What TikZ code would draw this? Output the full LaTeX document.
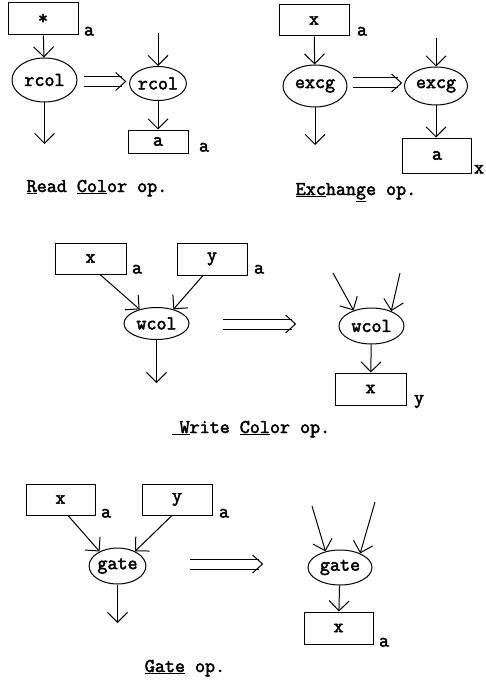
\documentclass[tikz,border=0pt]{standalone}
\usepackage{fontspec}
\setmonofont{Latin Modern Mono}[BoldFont={Latin Modern Mono},BoldFeatures={FakeBold=2.5}]
\usetikzlibrary{shapes.geometric,arrows.meta,calc}
\newcommand\myfont{\fontsize{19.5}{21}\selectfont\ttfamily\bfseries}
\newcommand\implarrow[2]{%
  \draw ([yshift=5pt]#1) -- ([yshift=5pt,xshift=-4pt]#2);
  \draw ([yshift=-5pt]#1) -- ([yshift=-5pt,xshift=-4pt]#2);
  \draw ([xshift=-10pt,yshift=9pt]#2) -- (#2) -- ([xshift=-10pt,yshift=-9pt]#2);}
\tikzset{
  every picture/.style={line width=1pt},
  bx/.style={draw, rectangle, inner sep=0pt, font=\myfont},
  ov/.style={draw, ellipse, inner sep=0pt, font=\myfont},
  sub/.style={inner sep=0pt, anchor=base west, font=\myfont},
  captxt/.style={inner sep=0pt, anchor=base, font=\myfont},
  arr/.style={-{Straight Barb[length=10pt,width=20pt]}},
}
\begin{document}
\begin{tikzpicture}[x=1pt,y=-1pt]
\useasboundingbox (0,0) rectangle (486,682);
% ---------- Read Color ----------
\node[bx, minimum width=70pt, minimum height=32pt] (b1) at (43,19) {*};
\node[sub] (l1) at ($(b1.south east)+(5,0)$) {a};
\node[ov, minimum width=65pt, minimum height=44pt] (e1) at (44.5,80) {rcol};
\coordinate (c1) at (44.5,144);
\draw[arr] (b1) -- (e1);
\draw[arr] (e1) -- (c1);
\node[ov, minimum width=53pt, minimum height=34pt] (e2) at (158,83.5) {rcol};
\coordinate (c2) at (158,33);
\node[bx, minimum width=60pt, minimum height=23pt] (b2) at (158,141.5) {a};
\node[sub] (l2) at ($(b2.south east)+(10,-2)$) {a};
\draw[arr] (c2) -- (e2);
\draw[arr] (e2) -- (b2);
\coordinate (i1a) at ($(e1.east)+(6,1.5)$);
\coordinate (i1b) at ($(e2.west)+(-3.5,-2)$);
\implarrow{i1a}{i1b}
\node[captxt] (t1) at (97,192) {\underline{R}ead \underline{Col}or op.};
% ---------- Exchange ----------
\node[bx, minimum width=70pt, minimum height=31pt] (b3) at (314,20.5) {x};
\node[sub] (l3) at ($(b3.south east)+(7,-1)$) {a};
\node[ov, minimum width=64pt, minimum height=42pt] (e3) at (315,86) {excg};
\coordinate (c3) at (315,145);
\draw[arr] (b3) -- (e3);
\draw[arr] (e3) -- (c3);
\node[ov, minimum width=63pt, minimum height=38pt] (e4) at (436,86) {excg};
\coordinate (c4) at (436,38);
\node[bx, minimum width=69pt, minimum height=35pt] (b4) at (437,155.5) {a};
\node[sub] (l4) at ($(b4.south east)+(1.5,0)$) {x};
\draw[arr] (c4) -- (e4);
\draw[arr] (e4) -- (e4 |- b4.north);
\coordinate (i2a) at ($(e3.east)+(5,-3)$);
\coordinate (i2b) at ($(e4.west)+(-2.5,-3)$);
\implarrow{i2a}{i2b}
\node[captxt] (t2) at (356,195) {\underline{Exc}han\underline{g}e op.};
% ---------- Write Color ----------
\node[bx, minimum width=71pt, minimum height=31pt] (b5) at (90.5,258.5) {x};
\node[sub] (l5) at ($(b5.south east)+(5,-1)$) {a};
\node[bx, minimum width=70pt, minimum height=32pt] (b6) at (212,259) {y};
\node[sub] (l6) at ($(b6.south east)+(6,-2)$) {a};
\node[ov, minimum width=65pt, minimum height=32pt] (e5) at (156.5,323.5) {wcol};
\coordinate (c5) at (156.5,383);
\draw[arr] ($(b5.south)+(9.5,0)$) -- (e5.140);
\draw[arr] ($(b6.south)+(-9,0)$) -- (e5.40);
\draw[arr] (e5) -- (c5);
\node[ov, minimum width=65pt, minimum height=36pt] (e6) at (371.5,326) {wcol};
\coordinate (c6a) at (333,273);
\coordinate (c6b) at (400,273);
\node[bx, minimum width=71pt, minimum height=32pt] (b7) at (370.5,389) {x};
\node[sub] (l7) at ($(b7.south east)+(7,-2)$) {y};
\draw[arr] (c6a) -- (e6.139);
\draw[arr] (c6b) -- (e6.37);
\draw[arr] (e6) -- (b7);
\coordinate (i3a) at ($(e5.east)+(33,0.5)$);
\coordinate (i3b) at ($(e6.west)+(-43,-2)$);
\implarrow{i3a}{i3b}
\node[captxt] (t3) at (251,433) {\underline{\hspace{0.4em}W}rite \underline{Col}or op.};
% ---------- Gate ----------
\node[bx, minimum width=69pt, minimum height=31pt] (b8) at (60.5,499.5) {x};
\node[sub] (l8) at ($(b8.south east)+(5,2)$) {a};
\node[bx, minimum width=70pt, minimum height=31pt] (b9) at (177,499.5) {y};
\node[sub] (l9) at ($(b9.south east)+(6,2)$) {a};
\node[ov, minimum width=53pt, minimum height=36pt] (e7) at (117.5,566) {gate};
\coordinate (c7) at (117.5,623);
\draw[arr] ($(b8.south)+(7.5,0)$) -- (e7.141);
\draw[arr] ($(b9.south)+(-5,0)$) -- (e7.40);
\draw[arr] (e7) -- (c7);
\node[ov, minimum width=64pt, minimum height=35pt] (e8) at (340,567.5) {gate};
\coordinate (c8a) at (312,506);
\coordinate (c8b) at (375,502);
\node[bx, minimum width=69pt, minimum height=32pt] (b10) at (338.5,628) {x};
\node[sub] (l10) at ($(b10.south east)+(5,2)$) {a};
\draw[arr] (c8a) -- (e8.132);
\draw[arr] (c8b) -- (e8.35);
\draw[arr] (e8) -- (b10);
\coordinate (i4a) at ($(e7.east)+(44,-2)$);
\coordinate (i4b) at ($(e8.west)+(-45,-3.5)$);
\implarrow{i4a}{i4b}
\node[captxt] (t4) at (185,672) {\underline{Gate} op.};
\end{tikzpicture}
\end{document}
